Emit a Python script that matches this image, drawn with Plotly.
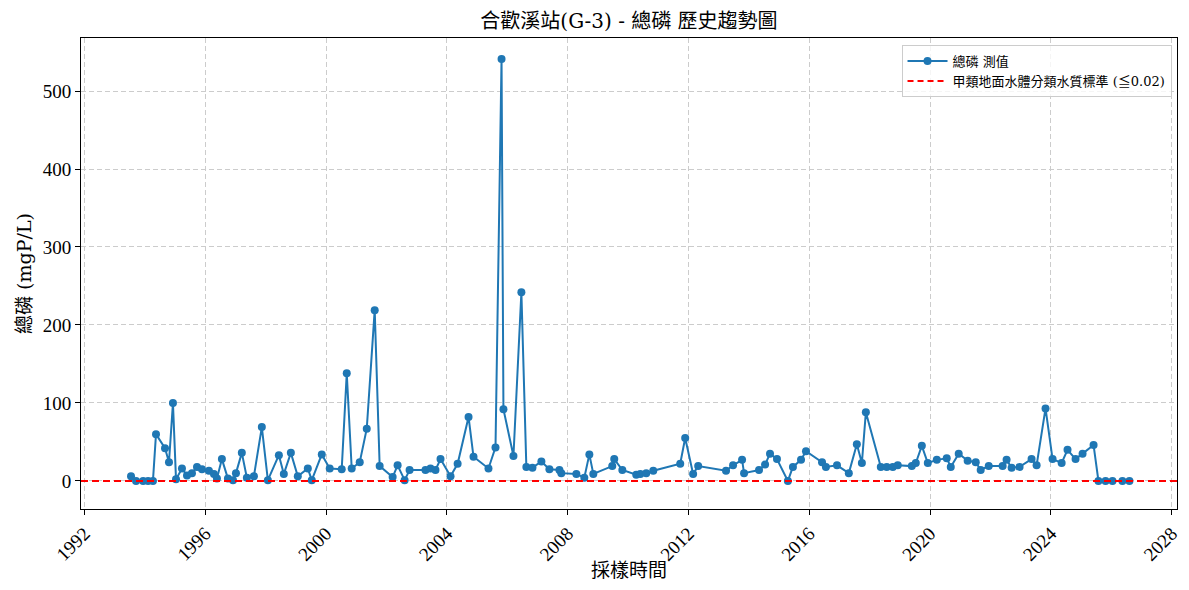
import plotly.graph_objects as go

# sampling dates and total phosphorus readings
dates = [
    "1993-07-17", "1993-09-16", "1993-12-10", "1994-02-08", "1994-04-08",
    "1994-05-15", "1994-09-01", "1994-10-19", "1994-12-06", "1995-01-12",
    "1995-03-25", "1995-05-25", "1995-07-24", "1995-09-23", "1995-11-22",
    "1996-02-14", "1996-04-15", "1996-05-21", "1996-07-20", "1996-10-01",
    "1996-12-01", "1997-01-06", "1997-03-18", "1997-05-18", "1997-08-11",
    "1997-11-15", "1998-01-27", "1998-06-09", "1998-08-08", "1998-11-01",
    "1999-01-24", "1999-05-25", "1999-07-12", "1999-11-10", "2000-02-14",
    "2000-07-08", "2000-09-07", "2000-11-06", "2001-02-11", "2001-05-07",
    "2001-08-11", "2001-10-10", "2002-03-16", "2002-05-15", "2002-08-08",
    "2002-10-07", "2003-04-17", "2003-06-17", "2003-08-16", "2003-10-16",
    "2004-02-14", "2004-05-10", "2004-09-19", "2004-11-18", "2005-05-18",
    "2005-08-11", "2005-10-23", "2005-11-15", "2006-03-16", "2006-06-20",
    "2006-08-19", "2006-11-01", "2007-02-17", "2007-05-25", "2007-09-23",
    "2007-10-16", "2008-04-15", "2008-07-20", "2008-09-19", "2008-11-06",
    "2009-06-23", "2009-07-17", "2009-10-23", "2010-04-09", "2010-05-28",
    "2010-08-08", "2010-11-01", "2011-09-23", "2011-11-22", "2012-02-26",
    "2012-04-27", "2013-03-30", "2013-06-23", "2013-10-10", "2013-11-03",
    "2014-05-03", "2014-07-15", "2014-09-13", "2014-12-06", "2015-04-17",
    "2015-06-17", "2015-09-23", "2015-11-22", "2016-06-03", "2016-07-20",
    "2016-12-01", "2017-04-23", "2017-07-29", "2017-09-28", "2017-11-15",
    "2018-05-15", "2018-07-26", "2018-10-07", "2018-12-06", "2019-05-25",
    "2019-07-12", "2019-09-23", "2019-12-04", "2020-03-22", "2020-07-20",
    "2020-09-07", "2020-12-12", "2021-03-30", "2021-07-06", "2021-09-04",
    "2021-12-10", "2022-05-27", "2022-07-14", "2022-09-13", "2022-12-18",
    "2023-05-12", "2023-07-12", "2023-10-28", "2024-01-21", "2024-05-10",
    "2024-07-20", "2024-10-25", "2025-01-18", "2025-05-31", "2025-07-29",
    "2025-10-23", "2026-01-15", "2026-05-15", "2026-08-08",
]
tp_values = [
    6, 0, 0, 0, 0,
    60, 42, 24, 100, 2,
    16, 7, 10, 18, 15,
    13, 9, 3, 28, 3,
    1, 10, 36, 4, 6,
    69, 1, 33, 9, 36,
    6, 16, 1, 34, 16,
    15, 138, 16, 24, 67,
    219, 19, 5, 20, 1,
    14, 14, 16, 14, 28,
    6, 22, 82, 31, 16,
    43, 541, 92, 32, 242,
    18, 17, 25, 15, 14,
    10, 9, 4, 34, 9,
    19, 28, 14, 8, 9,
    10, 13, 22, 55, 9,
    19, 13, 20, 27, 10,
    14, 21, 35, 28, 0,
    18, 27, 38, 24, 18,
    20, 10, 47, 23, 88,
    18, 18, 18, 20, 19,
    23, 45, 23, 27, 29,
    18, 35, 26, 24, 14,
    19, 19, 27, 17, 18,
    28, 20, 93, 28, 23,
    40, 28, 35, 46, 0,
    0, 0, 0, 0,
]
standard_limit = 0.02

TICK_FONT = "Liberation Serif, Noto Sans CJK TC, serif"
TEXT_FONT = "DejaVu Serif, Noto Sans CJK TC, serif"

fig = go.Figure()

fig.add_trace(go.Scatter(
    x=dates, y=tp_values,
    mode="lines+markers",
    name="總磷 測值",
    line=dict(color="#1f77b4", width=2),
    marker=dict(color="#1f77b4", size=8),
))

# legend entry for the standard line
fig.add_trace(go.Scatter(
    x=[None], y=[None],
    mode="lines",
    name="甲類地面水體分類水質標準 (≦0.02)",
    line=dict(color="red", width=2, dash="6px,4px"),
))
fig.add_hline(y=standard_limit, line=dict(color="red", width=2, dash="7px,4px"))

axis_common = dict(
    showline=True, linecolor="black", linewidth=1, mirror=True,
    ticks="outside", ticklen=5, tickcolor="black",
    showgrid=True, gridcolor="#cccccc", griddash="5px,3px", gridwidth=1,
    zeroline=False, automargin=False,
    tickfont=dict(family=TICK_FONT, size=19, color="black"),
)

fig.update_xaxes(
    **axis_common,
    type="date",
    range=["1991-11-20", "2028-03-05"],
    tick0="1992-01-01", dtick="M48", tickformat="%Y",
    tickangle=-45,
)
fig.update_yaxes(
    **axis_common,
    range=[-36, 568],
    dtick=100,
    title=dict(text="總磷 (mgP/L)", font=dict(family=TEXT_FONT, size=19, color="black"), standoff=6),
)

# x-axis title as an annotation so it can sit a little closer to the ticks
fig.add_annotation(
    text="採樣時間", xref="paper", yref="paper", x=0.5, y=-0.13,
    xanchor="center", yanchor="middle", showarrow=False,
    font=dict(family=TEXT_FONT, size=19, color="black"),
)

# the page shifts the figure by ~7px, so margins are trimmed to land the axes where they should be
fig.update_layout(
    width=1189, height=590,
    title=dict(
        text="合歡溪站(G-3) - 總磷 歷史趨勢圖",
        xref="paper", x=0.5, xanchor="center", y=0.99, yanchor="top",
        font=dict(family=TEXT_FONT, size=20, color="black"),
    ),
    margin=dict(l=73, r=20, t=30, b=89),
    paper_bgcolor="white",
    plot_bgcolor="white",
    font=dict(family=TEXT_FONT, color="black"),
    legend=dict(
        x=0.995, y=0.985, xanchor="right", yanchor="top",
        bgcolor="rgba(255,255,255,0.8)",
        bordercolor="#cccccc", borderwidth=1,
        font=dict(family=TEXT_FONT, size=13, color="black"),
        itemwidth=40,
    ),
)

fig.write_html("out.html")
